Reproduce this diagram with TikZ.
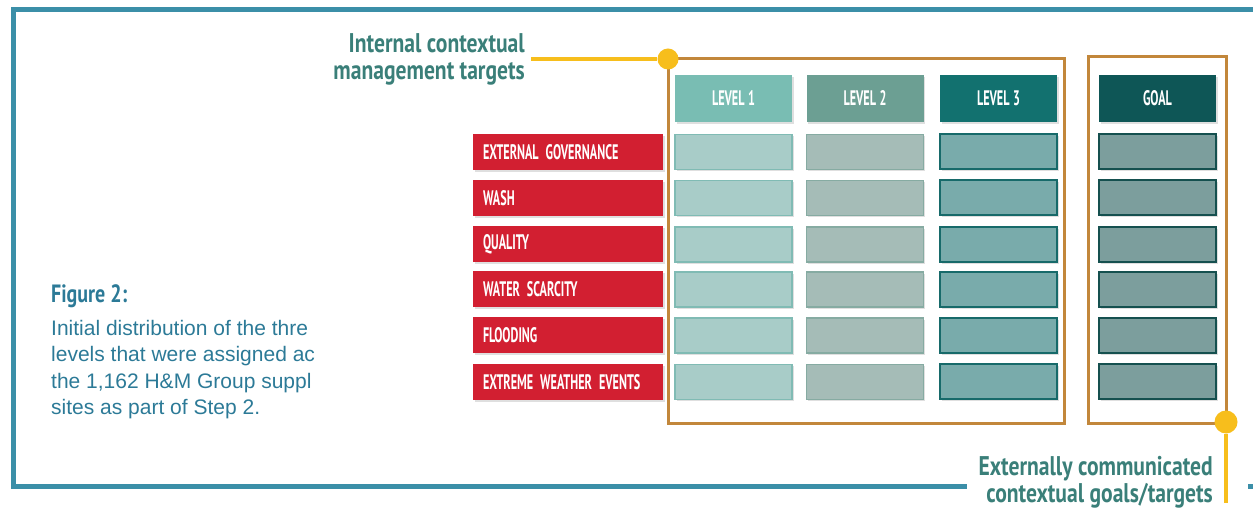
\documentclass[tikz,border=0pt]{standalone}
\usepackage{fontspec}
\setmainfont{Liberation Sans}
\newfontfamily\condfont[FakeStretch=0.80]{PT Sans}
\newfontfamily\narrowfont[FakeStretch=0.58]{PT Sans}
\newcommand\tightlab{\narrowfont\bfseries\fontsize{21}{21}\selectfont\fontdimen2\font=3.5pt}
\usepackage{tikz}
\usetikzlibrary{shadows}

\definecolor{frameblue}{HTML}{3B8FA8}
\definecolor{titleteal}{HTML}{3A7F79}
\definecolor{capblue}{HTML}{2C7A97}
\definecolor{hmred}{HTML}{D21F31}
\definecolor{brownline}{HTML}{C2873B}
\definecolor{yel}{HTML}{F7BE1C}
\definecolor{hdrA}{HTML}{79BDB3}
\definecolor{hdrB}{HTML}{6C9F93}
\definecolor{hdrC}{HTML}{12716F}
\definecolor{hdrG}{HTML}{0E5656}

\tikzstyle{shade} = [drop shadow={shadow xshift=1.5pt, shadow yshift=-2pt, opacity=0.25}]
\tikzstyle{lab} = [fill=hmred, text=white, minimum height=36pt, text width=170pt, inner xsep=10pt, inner ysep=0pt, align=left, font=\tightlab, shade]
\tikzstyle{hdr} = [minimum width=117pt, minimum height=47pt, inner sep=0pt, text=white, font=\tightlab, shade]
\tikzstyle{cell} = [minimum width=117pt, minimum height=35pt, inner sep=0pt, shade]
\tikzstyle{dot} = [circle, fill=yel, inner sep=0pt]
\tikzstyle{ttl} = [align=right, inner sep=0pt, text=titleteal, font=\condfont\bfseries\fontsize{27}{27}\selectfont]

\begin{document}
\begin{tikzpicture}[x=1pt,y=-1pt]
  \useasboundingbox (0,0) rectangle (1253,510);
  \def\xa{733.5}
  \def\xb{865}
  \def\xc{998.5}
  \def\xg{1157.5}
  % outer frame
  \draw[frameblue,line width=5pt] (1253,10) -| (13,486) -- (967,486);
  \draw[frameblue,line width=5pt] (1248,486) -- (1253,486);
  % caption
  \node[anchor=base west,inner sep=0pt,text=capblue,font=\condfont\bfseries\fontsize{25}{25}\selectfont] (figlab) at (51,303) {Figure 2:};
  \node[anchor=north west,inner sep=0pt,align=left,text=capblue,font=\fontsize{21}{26.3}\selectfont] (figtext) at (51,320)
    {Initial distribution of the thre\\levels that were assigned ac\\the 1,162 H\&M Group suppl\\sites as part of Step 2.};
  % brown boxes and yellow markers
  \coordinate (cornerA) at (668,59);
  \draw[brownline,line width=3pt] (cornerA) rectangle (1064,423);
  \draw[brownline,line width=3pt] (1088,57) rectangle (1226,423);
  \node[dot,minimum size=21pt] (dotA) at (cornerA) {};
  \node[dot,minimum size=23pt] (dotB) at (1226,422) {};
  \coordinate (tail) at (1226,503);
  \node[ttl,anchor=east] (inttitle) at (525,59) {Internal contextual\\management targets};
  \node[ttl,anchor=east] (exttitle) at (1213,482) {Externally communicated\\contextual goals/targets};
  \draw[yel,line width=4pt] (inttitle.east) ++(6,0) -- (dotA);
  \draw[yel,line width=4pt] (dotB) -- (tail);
  % column heads
  \node[hdr,fill=hdrA] (hA) at (\xa,98.5) {LEVEL 1};
  \node[hdr,fill=hdrB] (hB) at (\xb,98.5) {LEVEL 2};
  \node[hdr,fill=hdrC] (hC) at (\xc,98.5) {LEVEL 3};
  \node[hdr,fill=hdrG] (hG) at (\xg,98.5) {GOAL};
  % rows
  \foreach \n/\y/\t in {1/152/EXTERNAL GOVERNANCE,2/198/WASH,3/244.5/QUALITY,4/289.5/WATER SCARCITY,5/335.5/FLOODING,6/382/EXTREME WEATHER EVENTS}{
    \node[lab] (lab\n) at (568,\y) {\t};
    \node[cell,fill={rgb,255:red,168;green,204;blue,200},draw={rgb,255:red,128;green,187;blue,180},line width=1.5pt] (cA\n) at (\xa,\y) {};
    \node[cell,fill={rgb,255:red,165;green,188;blue,183},draw={rgb,255:red,134;green,171;blue,162},line width=1.5pt] (cB\n) at (\xb,\y) {};
    \node[cell,fill={rgb,255:red,121;green,171;blue,171},draw={rgb,255:red,23;green,106;blue,106},line width=2pt] (cC\n) at (\xc,\y) {};
    \node[cell,fill={rgb,255:red,124;green,158;blue,157},draw={rgb,255:red,21;green,80;blue,79},line width=2pt] (cG\n) at (\xg,\y) {};
  }
\end{tikzpicture}
\end{document}
